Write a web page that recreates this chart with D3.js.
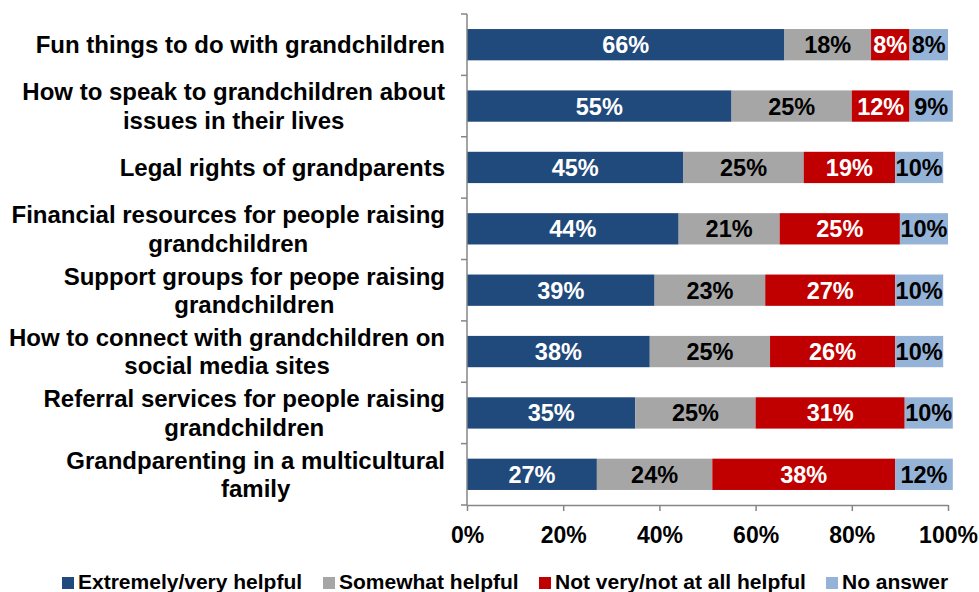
<!DOCTYPE html>
<html><head><meta charset="utf-8">
<script src="https://cdn.jsdelivr.net/npm/d3@7/dist/d3.min.js"></script>
<style>body{margin:0;background:#fff}svg{display:block}text{font-family:"Liberation Sans",Arial,sans-serif;font-weight:bold}</style>
</head><body><svg id="c" width="979" height="592"></svg>
<script>
const categories = [
  ["Fun things to do with grandchildren"],
  ["How to speak to grandchildren about","issues in their lives"],
  ["Legal rights of grandparents"],
  ["Financial resources for people raising","grandchildren"],
  ["Support groups for peope raising","grandchildren"],
  ["How to connect with grandchildren on","social media sites"],
  ["Referral services for people raising","grandchildren"],
  ["Grandparenting in a multicultural","family"]
];
const seriesNames = ["Extremely/very helpful","Somewhat helpful","Not very/not at all helpful","No answer"];
const extremely = [66,55,45,44,39,38,35,27];
const somewhat  = [18,25,25,21,23,25,25,24];
const notVery   = [8,12,19,25,27,26,31,38];
const noAnswer  = [8,9,10,10,10,10,10,12];
const xTicks = [0,20,40,60,80,100];
const colors = ["#214A7C","#A6A6A6","#C00000","#95B3D7"];
const textColors = ["#fff","#000","#fff","#000"];

const series = [extremely, somewhat, notVery, noAnswer];
const svg = d3.select("#c");
const x = d3.scaleLinear().domain([0,100]).range([467,948]);
const y = d3.scaleBand().domain(d3.range(categories.length)).range([14,505]).paddingInner(0.49).paddingOuter(0.245);

// bars
categories.forEach((c,i)=>{
  let acc = 0;
  series.forEach((s,k)=>{
    const v = s[i];
    const x0 = x(acc), x1 = x(acc+v);
    svg.append("rect").attr("x",x0).attr("y",y(i)).attr("width",x1-x0).attr("height",y.bandwidth()).attr("fill",colors[k]);
    svg.append("text").attr("x",(x0+x1)/2).attr("y",y(i)+y.bandwidth()/2).attr("dy","0.36em")
      .attr("text-anchor","middle").attr("font-size",23.5).attr("fill",textColors[k]).text(v+"%");
    acc += v;
  });
});

// y axis line with boundary ticks
const axisColor = "#868686";
svg.append("line").attr("x1",467).attr("x2",467).attr("y1",14).attr("y2",505).attr("stroke",axisColor).attr("stroke-width",1.5);
const step = (505-14)/categories.length;
for(let i=0;i<=categories.length;i++){
  const yy = 14 + i*step;
  svg.append("line").attr("x1",461).attr("x2",467).attr("y1",yy).attr("y2",yy).attr("stroke",axisColor).attr("stroke-width",1.5);
}
// x axis
const xa = svg.append("g").attr("transform","translate(0,505)")
  .call(d3.axisBottom(x).tickValues(xTicks).tickFormat(d=>d+"%").tickSize(6).tickSizeOuter(0));
xa.select(".domain").attr("stroke",axisColor).attr("stroke-width",1.5);
xa.selectAll(".tick line").attr("stroke",axisColor).attr("stroke-width",1.5);
xa.selectAll(".tick text").attr("font-size",23).attr("fill","#000").attr("dy","0").attr("y",38)
  .attr("font-family","'Liberation Sans',Arial,sans-serif").attr("font-weight","bold");

// category labels: block right-aligned at 445, lines centred inside block
categories.forEach((lines,i)=>{
  const cy = y(i)+y.bandwidth()/2;
  const lh = 28.5;
  const g = svg.append("g");
  const t = g.append("text").attr("text-anchor","middle").attr("font-size",24).attr("fill","#000");
  lines.forEach((ln,j)=>{
    t.append("tspan").attr("x",0).attr("y",cy + (j-(lines.length-1)/2)*lh).attr("dy","0.36em").text(ln);
  });
  const w = t.node().getBBox().width;
  g.attr("transform",`translate(${445 - w/2},0)`);
});

// legend
const lg = svg.append("g");
const legX = [62,323,539,826];
seriesNames.forEach((n,k)=>{
  lg.append("rect").attr("x",legX[k]).attr("y",577).attr("width",12).attr("height",12).attr("fill",colors[k]);
  lg.append("text").attr("x",legX[k]+16).attr("y",589).attr("font-size",21).attr("fill","#000").text(n);
});
</script></body></html>
